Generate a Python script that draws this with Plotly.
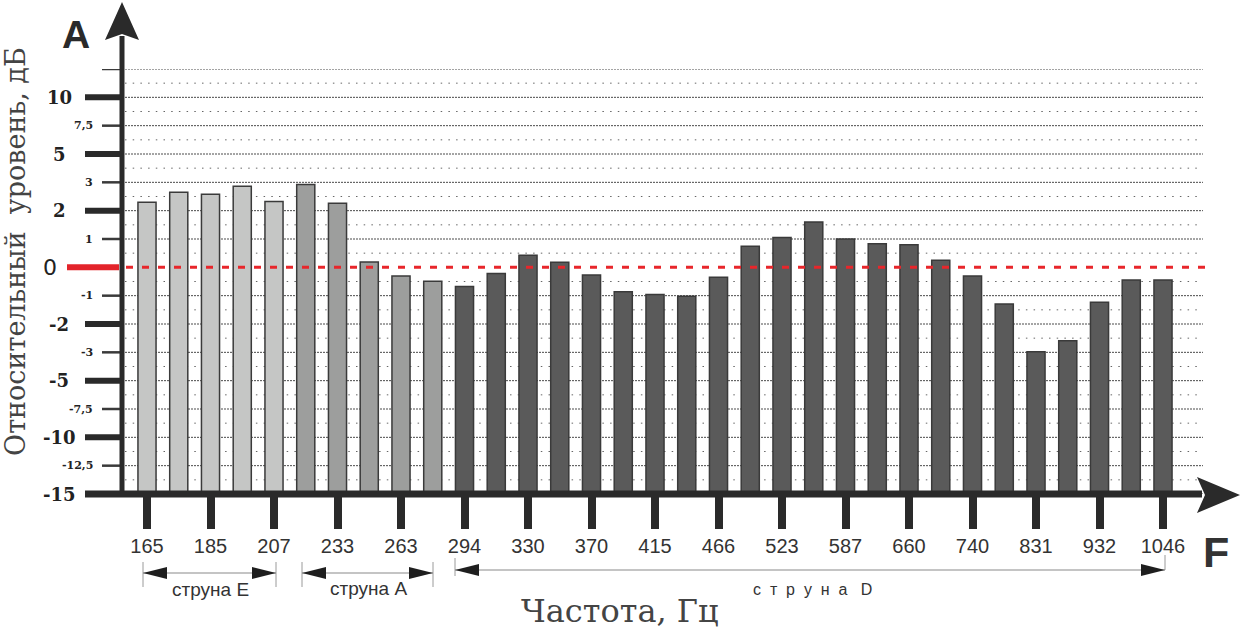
import numpy as np
import plotly.graph_objects as go

# ---------------- data ----------------
freqs = [165, 175, 185, 196, 207, 220, 233, 247, 263, 277, 294, 311, 330, 349, 370, 392,
         415, 440, 466, 494, 523, 554, 587, 622, 660, 698, 740, 784, 831, 880, 932, 988, 1046]
level_db = [2.30, 2.65, 2.58, 2.86, 2.32, 2.92, 2.26, 0.19, -0.31, -0.49, -0.68, -0.22, 0.43,
            0.18, -0.27, -0.86, -0.96, -1.02, -0.35, 0.74, 1.05, 1.60, 1.00, 0.83, 0.80, 0.25,
            -0.31, -1.29, -2.98, -2.59, -1.23, -0.45, -0.45]
string_of_bar = ["E"] * 5 + ["A"] * 5 + ["D"] * 23
string_colors = {"E": "#c5c6c5", "A": "#9d9e9d", "D": "#5a5a5a"}

# nonlinear level scale of the chart (dB value -> axis position)
tick_db = [-15, -12.5, -10, -7.5, -5, -3, -2, -1, 0, 1, 2, 3, 5, 7.5, 10]
tick_text = ["-15", "-12,5", "-10", "-7,5", "-5", "-3", "-2", "-1", "0", "1", "2", "3", "5", "7,5", "10"]
tick_major = [True, False, True, False, True, False, True, False, None, False, True, False, True, False, True]
tick_pos = list(range(-8, 7))
Y_BOTTOM, Y_TOP = -8, 7

# ---------------- geometry helpers ----------------
W, H = 1243, 631
L, R, T, B = 122, 1203, 69, 494


def px(x):
    return (x - L) / (R - L)


def py(y):
    return (B - y) / (B - T)


pos = np.interp(level_db, tick_db, tick_pos)
idx = list(range(len(freqs)))

fig = go.Figure()
fig.add_trace(go.Bar(
    x=idx, y=pos - Y_BOTTOM, base=Y_BOTTOM, width=0.57,
    marker=dict(color=[string_colors[s] for s in string_of_bar],
                line=dict(color="#3a3a3a", width=1.5)),
    hoverinfo="skip", showlegend=False))

shapes = []
# gridlines
for k in range(2 * Y_BOTTOM, 2 * Y_TOP + 1):
    v = k / 2
    if v == 0:
        continue
    dense = (k % 2 == 0)
    shapes.append(dict(type="line", xref="paper", yref="y", x0=px(125), x1=px(1203), y0=v, y1=v,
                       layer="below",
                       line=dict(color="#4a4a4a" if dense else "#666666", width=1,
                                 dash="2px,1px" if dense else "1.5px,6.2px")))
# red zero line
shapes.append(dict(type="line", xref="paper", yref="y", x0=px(126), x1=px(1210), y0=0, y1=0,
                   layer="above", line=dict(color="#e8262b", width=3, dash="7px,9px")))

# y axis ticks
for p, maj in zip(tick_pos, tick_major):
    if maj is None:
        shapes.append(dict(type="line", xref="paper", yref="y", x0=px(67), x1=px(119), y0=p, y1=p,
                           layer="above", line=dict(color="#e3242b", width=6)))
    elif maj:
        shapes.append(dict(type="line", xref="paper", yref="y", x0=px(85), x1=px(120), y0=p, y1=p,
                           layer="above", line=dict(color="#2a2a2a", width=6)))
    else:
        shapes.append(dict(type="line", xref="paper", yref="y", x0=px(102), x1=px(120), y0=p, y1=p,
                           layer="above", line=dict(color="#3a3a3a", width=2.5)))
shapes.append(dict(type="line", xref="paper", yref="y", x0=px(102), x1=px(120), y0=Y_TOP, y1=Y_TOP,
                   layer="above", line=dict(color="#3a3a3a", width=2.5)))

# axis lines
shapes.append(dict(type="line", xref="paper", yref="paper", x0=px(122), x1=px(122), y0=py(36), y1=py(497),
                   layer="above", line=dict(color="#2a2a2a", width=5)))
shapes.append(dict(type="line", xref="paper", yref="paper", x0=px(85), x1=px(1202), y0=py(494), y1=py(494),
                   layer="above", line=dict(color="#2a2a2a", width=7)))


def path(points):
    s = "M " + " L ".join(f"{px(a):.5f},{py(b):.5f}" for a, b in points) + " Z"
    return s


# arrows of axes
shapes.append(dict(type="path", xref="paper", yref="paper", layer="above",
                   path=path([(122, 2), (139, 40), (122, 34), (105, 40)]),
                   fillcolor="#2a2a2a", line=dict(width=0)))
shapes.append(dict(type="path", xref="paper", yref="paper", layer="above",
                   path=path([(1240, 495), (1197, 477), (1205, 495), (1197, 513)]),
                   fillcolor="#2a2a2a", line=dict(width=0)))


# string brackets
def bracket(x0, x1, ybar, ytop, ybot, ytop_r=None, ybot_r=None):
    ytop_r = ytop if ytop_r is None else ytop_r
    ybot_r = ybot if ybot_r is None else ybot_r
    out = []
    out.append(dict(type="line", xref="paper", yref="paper", x0=px(x0), x1=px(x0), y0=py(ytop), y1=py(ybot),
                    line=dict(color="#9a9a9a", width=1)))
    out.append(dict(type="line", xref="paper", yref="paper", x0=px(x1), x1=px(x1), y0=py(ytop_r), y1=py(ybot_r),
                    line=dict(color="#9a9a9a", width=1)))
    out.append(dict(type="line", xref="paper", yref="paper", x0=px(x0), x1=px(x1), y0=py(ybar), y1=py(ybar),
                    line=dict(color="#8a8a8a", width=1.2)))
    out.append(dict(type="path", xref="paper", yref="paper",
                    path=path([(x0, ybar), (x0 + 24, ybar - 6), (x0 + 24, ybar + 6)]),
                    fillcolor="#1e1e1e", line=dict(width=0)))
    out.append(dict(type="path", xref="paper", yref="paper",
                    path=path([(x1, ybar), (x1 - 24, ybar - 6), (x1 - 24, ybar + 6)]),
                    fillcolor="#1e1e1e", line=dict(width=0)))
    return out


shapes += bracket(143, 276, 573, 562, 587)
shapes += bracket(302, 433, 573, 562, 587)
shapes += bracket(455, 1165, 570, 558, 576, 555, 570)

annotations = []
for p, t, maj in zip(tick_pos, tick_text, tick_major):
    if maj is None:
        annotations.append(dict(x=px(50), y=p, xref="paper", yref="y", text=t, showarrow=False,
                                xanchor="center", yanchor="middle",
                                font=dict(family="DejaVu Sans", size=22, color="#222222")))
    elif maj:
        annotations.append(dict(x=px(59), y=p, xref="paper", yref="y", text=f"<b>{t}</b>", showarrow=False,
                                xanchor="center", yanchor="middle",
                                font=dict(family="DejaVu Serif", size=18, color="#222222")))
    else:
        annotations.append(dict(x=px(95), y=p, xref="paper", yref="y", text=f"<b>{t}</b>", showarrow=False,
                                xanchor="right", yanchor="middle",
                                font=dict(family="DejaVu Serif", size=11, color="#222222")))

annotations += [
    dict(x=px(76), y=py(34), xref="paper", yref="paper", text="<b>A</b>", showarrow=False,
         xanchor="center", yanchor="middle", font=dict(family="Liberation Sans", size=39, color="#2a2a2a")),
    dict(x=px(1216), y=py(552), xref="paper", yref="paper", text="<b>F</b>", showarrow=False,
         xanchor="center", yanchor="middle", font=dict(family="Liberation Sans", size=43, color="#333333")),
    dict(x=px(16), y=py(252), xref="paper", yref="paper", text="Относительный\u00a0\u00a0уровень, дБ",
         showarrow=False, textangle=-90, xanchor="center", yanchor="middle",
         font=dict(family="DejaVu Serif", size=27, color="#444444")),
    dict(x=px(620), y=py(611), xref="paper", yref="paper", text="Частота, Гц", showarrow=False,
         xanchor="center", yanchor="middle", font=dict(family="DejaVu Serif", size=32, color="#444444")),
    dict(x=px(210), y=py(589), xref="paper", yref="paper", text="струна E", showarrow=False,
         xanchor="center", yanchor="middle", font=dict(family="Liberation Sans", size=19, color="#333333")),
    dict(x=px(368), y=py(588), xref="paper", yref="paper", text="струна A", showarrow=False,
         xanchor="center", yanchor="middle", font=dict(family="Liberation Sans", size=19, color="#333333")),
    dict(x=px(812), y=py(589), xref="paper", yref="paper",
         text="\u00a0\u00a0".join(list("струна")) + "\u00a0\u00a0\u00a0D", showarrow=False,
         xanchor="center", yanchor="middle", font=dict(family="Liberation Sans", size=16, color="#333333")),
]

tickvals = idx[::2]
ticktext = [str(f) for f in freqs[::2]]

fig.update_layout(
    width=W, height=H,
    margin=dict(l=L, r=W - R, t=T, b=H - B, pad=0),
    paper_bgcolor="white", plot_bgcolor="white",
    shapes=shapes, annotations=annotations,
    bargap=0.43,
    xaxis=dict(range=[(L - 147) / 31.75, (R - 147) / 31.75], tickvals=tickvals, ticktext=ticktext,
               ticks="outside", ticklen=34, tickwidth=8, tickcolor="#2a2a2a",
               showline=False, showgrid=False, zeroline=False,
               tickfont=dict(family="Liberation Sans", size=20, color="#333333")),
    yaxis=dict(range=[Y_BOTTOM, Y_TOP], showticklabels=False, ticks="", showline=False,
               showgrid=False, zeroline=False),
)

fig.write_html("out.html", config={"displayModeBar": False},
               post_script="document.body.style.margin='0';document.body.style.padding='0';"
                           "document.body.style.overflow='hidden';")
